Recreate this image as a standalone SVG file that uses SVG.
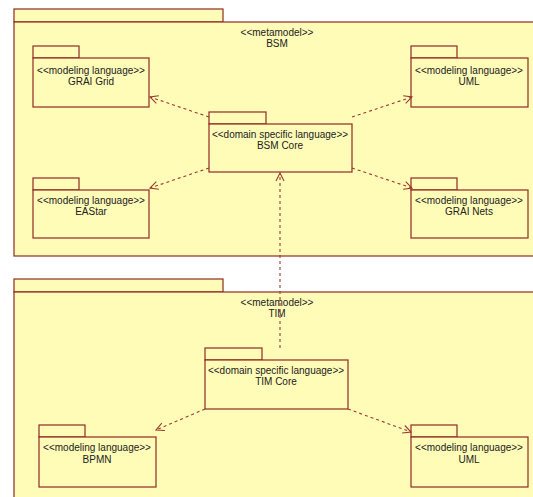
<svg xmlns="http://www.w3.org/2000/svg" width="533" height="497" viewBox="0 0 533 497">
<style>
.pk{fill:#fffcb8;stroke:#8f2a22;stroke-width:1.2}
.t{font-family:"Liberation Sans",Arial,sans-serif;font-size:10px;fill:#222;text-anchor:middle}
.c{fill:none;stroke:#9b3a30;stroke-width:1.1;stroke-dasharray:3 3;marker-end:url(#ah)}
</style>
<defs>
<marker id="ah" markerUnits="userSpaceOnUse" markerWidth="12" markerHeight="12" refX="9" refY="5" orient="auto">
<path d="M1,1 L9,5 L1,9" fill="none" stroke="#9b3a30" stroke-width="1.1"/>
</marker>
</defs>
<rect width="533" height="497" fill="#ffffff"/>
<g id="BSM">
<rect class="pk" x="14" y="9" width="209" height="13"/>
<rect class="pk" x="14" y="22" width="525" height="234"/>
<text class="t" x="277" y="36">&lt;&lt;metamodel&gt;&gt;</text>
<text class="t" x="277" y="47">BSM</text>
</g>
<g id="TIM">
<rect class="pk" x="14" y="279" width="209" height="13"/>
<rect class="pk" x="14" y="292" width="525" height="210"/>
<text class="t" x="277" y="306">&lt;&lt;metamodel&gt;&gt;</text>
<text class="t" x="277" y="317">TIM</text>
</g>
<g id="GRAIGrid">
<rect class="pk" x="33" y="46" width="46" height="12"/>
<rect class="pk" x="33" y="58" width="116" height="49"/>
<text class="t" x="91" y="74">&lt;&lt;modeling language&gt;&gt;</text>
<text class="t" x="91" y="85">GRAI Grid</text>
</g>
<g id="UML1">
<rect class="pk" x="411" y="46" width="46" height="12"/>
<rect class="pk" x="411" y="58" width="117" height="49"/>
<text class="t" x="469" y="74">&lt;&lt;modeling language&gt;&gt;</text>
<text class="t" x="469" y="85">UML</text>
</g>
<g id="BSMCore">
<rect class="pk" x="209" y="112" width="57" height="12"/>
<rect class="pk" x="209" y="124" width="143" height="48"/>
<text class="t" x="280" y="138">&lt;&lt;domain specific language&gt;&gt;</text>
<text class="t" x="280" y="149">BSM Core</text>
</g>
<g id="EAStar">
<rect class="pk" x="33" y="178" width="46" height="12"/>
<rect class="pk" x="33" y="190" width="116" height="48"/>
<text class="t" x="91" y="204">&lt;&lt;modeling language&gt;&gt;</text>
<text class="t" x="91" y="215">EAStar</text>
</g>
<g id="GRAINets">
<rect class="pk" x="411" y="178" width="46" height="12"/>
<rect class="pk" x="411" y="190" width="117" height="48"/>
<text class="t" x="469" y="204">&lt;&lt;modeling language&gt;&gt;</text>
<text class="t" x="469" y="215">GRAI Nets</text>
</g>
<g id="TIMCore">
<rect class="pk" x="205" y="348" width="57" height="12"/>
<rect class="pk" x="205" y="360" width="143" height="49"/>
<text class="t" x="276" y="374">&lt;&lt;domain specific language&gt;&gt;</text>
<text class="t" x="276" y="385">TIM Core</text>
</g>
<g id="BPMN">
<rect class="pk" x="39" y="425" width="46" height="12"/>
<rect class="pk" x="39" y="437" width="117" height="50"/>
<text class="t" x="97" y="451">&lt;&lt;modeling language&gt;&gt;</text>
<text class="t" x="97" y="463">BPMN</text>
</g>
<g id="UML2">
<rect class="pk" x="411" y="425" width="46" height="12"/>
<rect class="pk" x="411" y="437" width="117" height="50"/>
<text class="t" x="469" y="451">&lt;&lt;modeling language&gt;&gt;</text>
<text class="t" x="469" y="463">UML</text>
</g>
<g id="connectors">
<path class="c" d="M209,117 L150,97"/>
<path class="c" d="M352,117 L412,97"/>
<path class="c" d="M209,168 L150,188"/>
<path class="c" d="M352,168 L412,188"/>
<path class="c" d="M280,348 L280,173"/>
<path class="c" d="M205,409 L156,430"/>
<path class="c" d="M348,409 L411,432"/>
</g>
</svg>
